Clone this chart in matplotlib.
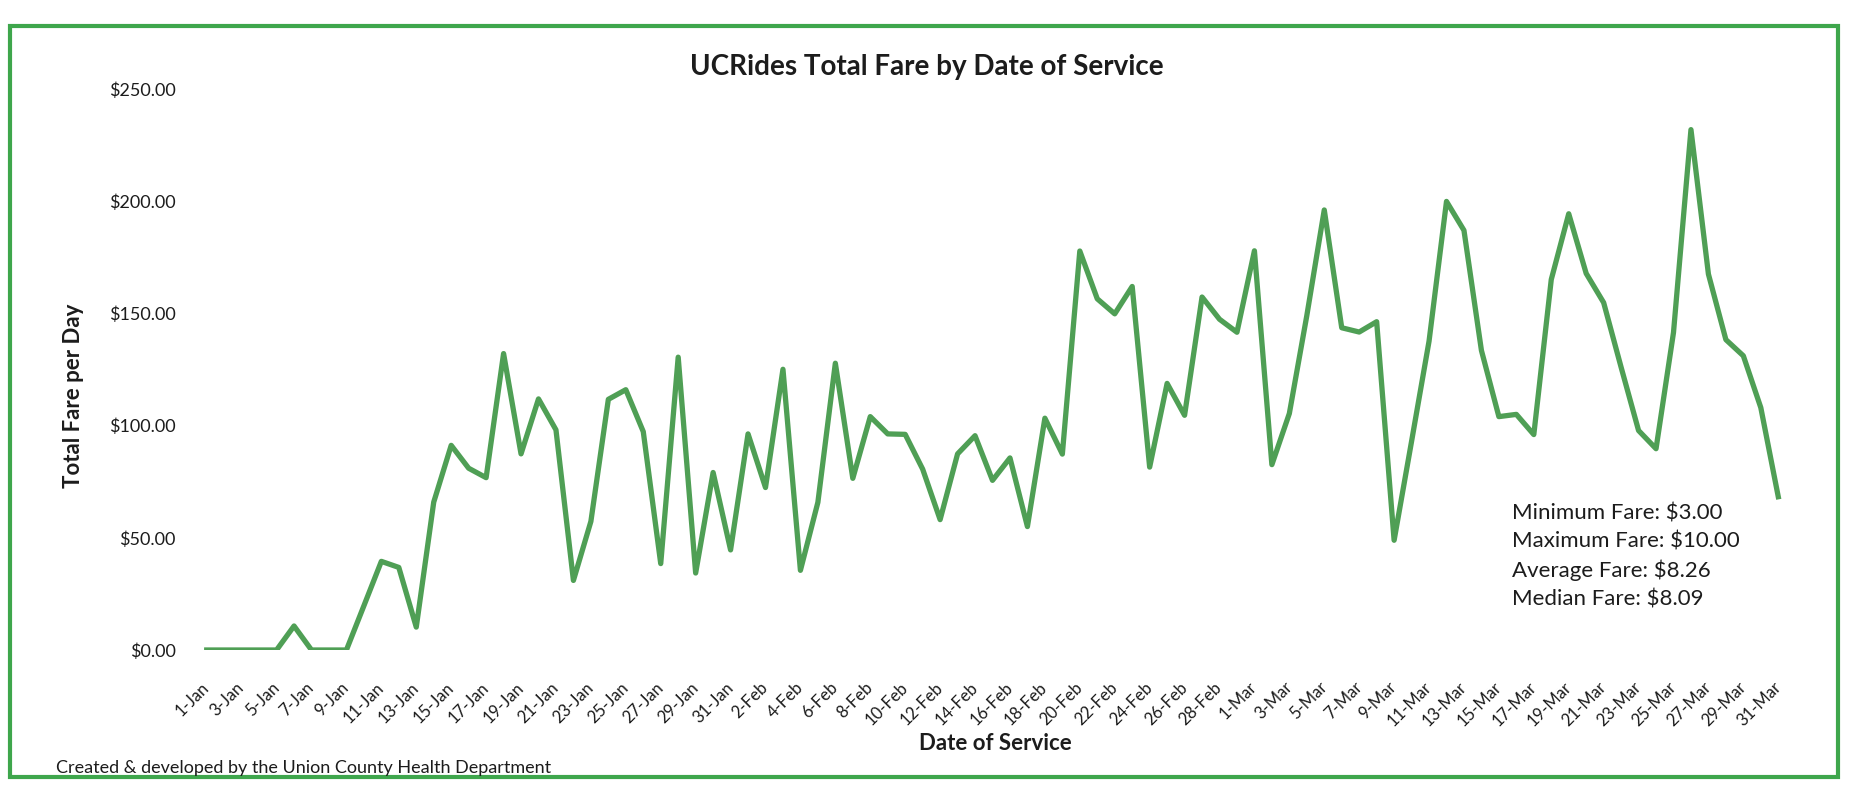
import matplotlib
matplotlib.use("Agg")
import matplotlib.pyplot as plt
from matplotlib.patches import Rectangle
import pandas as pd

plt.rcParams['font.family'] = ['Lato', 'DejaVu Sans']

# Daily service dates (Jan 1 - Mar 31, 2020)
service_dates = pd.date_range("2020-01-01", "2020-03-31", freq="D")
date_labels = [f"{d.day}-{d.strftime('%b')}" for d in service_dates]

# Total fare collected per day of service ($)
total_fare = [
    0, 0, 0, 0, 0, 10.7, 0, 0, 0, 19.7,                    # 1-10 Jan
    39.5, 36.8, 10.2, 65.9, 91.2, 81.0, 76.8, 132.1, 87.4, 111.9,   # 11-20 Jan
    98.1, 31.0, 57.3, 111.7, 116.0, 97.3, 38.5, 130.5, 34.3, 79.1,  # 21-30 Jan
    44.6,                                                  # 31 Jan
    96.3, 72.4, 125.1, 35.5, 65.8, 127.8, 76.5, 104.0, 96.3, 96.1,  # 1-10 Feb
    80.6, 58.1, 87.4, 95.5, 75.6, 85.6, 55.0, 103.3, 87.3, 177.8,   # 11-20 Feb
    156.5, 149.8, 162.0, 81.5, 118.8, 104.6, 157.3, 147.4, 141.6,   # 21-29 Feb
    177.9, 82.6, 105.4, 149.0, 196.1, 143.6, 141.7, 146.3, 48.9, 93.0,   # 1-10 Mar
    137.6, 199.9, 187.0, 133.5, 104.0, 105.0, 96.0, 165.1, 194.4, 167.8, # 11-20 Mar
    154.8, 126.0, 97.8, 89.7, 141.5, 231.9, 167.5, 138.3, 131.1, 108.0,  # 21-30 Mar
    68.3,                                                  # 31 Mar
]

y_ticks = [0, 50, 100, 150, 200, 250]

fare_summary = [
    "Minimum Fare: $3.00",
    "Maximum Fare: $10.00",
    "Average Fare: $8.26",
    "Median Fare: $8.09",
]

LINE_GREEN = "#4f9f55"
FRAME_GREEN = "#3ea64c"
TEXT = "#1c1c1c"

W, H = 1857, 798
fig = plt.figure(figsize=(W / 100, H / 100), dpi=100)
fig.patch.set_facecolor("white")

ax = fig.add_axes([198 / W, 1 - 650 / H, (1787 - 198) / W, (650 - 89) / H])
x = list(range(len(total_fare)))
ax.plot(x, total_fare, color=LINE_GREEN, lw=3.8, solid_joinstyle="round")

ax.set_xlim(-0.5, len(total_fare) - 0.5)
ax.set_ylim(0, 250)
for s in ax.spines.values():
    s.set_visible(False)

ax.set_yticks(y_ticks)
ax.set_yticklabels([f"${v:,.2f}" for v in y_ticks], fontsize=13, color=TEXT)
ax.set_xticks(x[::2])
ax.set_xticklabels(date_labels[::2], fontsize=12, color=TEXT,
                   rotation=45, ha="right", va="center", rotation_mode="anchor")
ax.tick_params(axis="y", length=0, pad=16)
ax.tick_params(axis="x", length=0, pad=25)

fig.text(927 / W, 1 - 67 / H, "UCRides Total Fare by Date of Service",
         ha="center", va="center", fontsize=20, fontweight="bold", color=TEXT)
fig.text(73 / W, 1 - 396 / H, "Total Fare per Day", rotation=90,
         ha="center", va="center", fontsize=16, fontweight="bold", color=TEXT)
fig.text(995 / W, 1 - 743 / H, "Date of Service",
         ha="center", va="center", fontsize=16, fontweight="bold", color=TEXT)
fig.text(56 / W, 1 - 768 / H,
         "Created & developed by the Union County Health Department",
         ha="left", va="center", fontsize=13, color=TEXT)

for i, line in enumerate(fare_summary):
    fig.text(1512 / W, 1 - (513 + i * 28.7) / H, line,
             ha="left", va="center", fontsize=16, color=TEXT)

fig.add_artist(Rectangle((10 / W, 1 - 777 / H), (1838 - 10) / W, (777 - 26) / H,
                         transform=fig.transFigure, fill=False,
                         ec=FRAME_GREEN, lw=3))

fig.savefig("out.png", dpi=100, facecolor="white")
